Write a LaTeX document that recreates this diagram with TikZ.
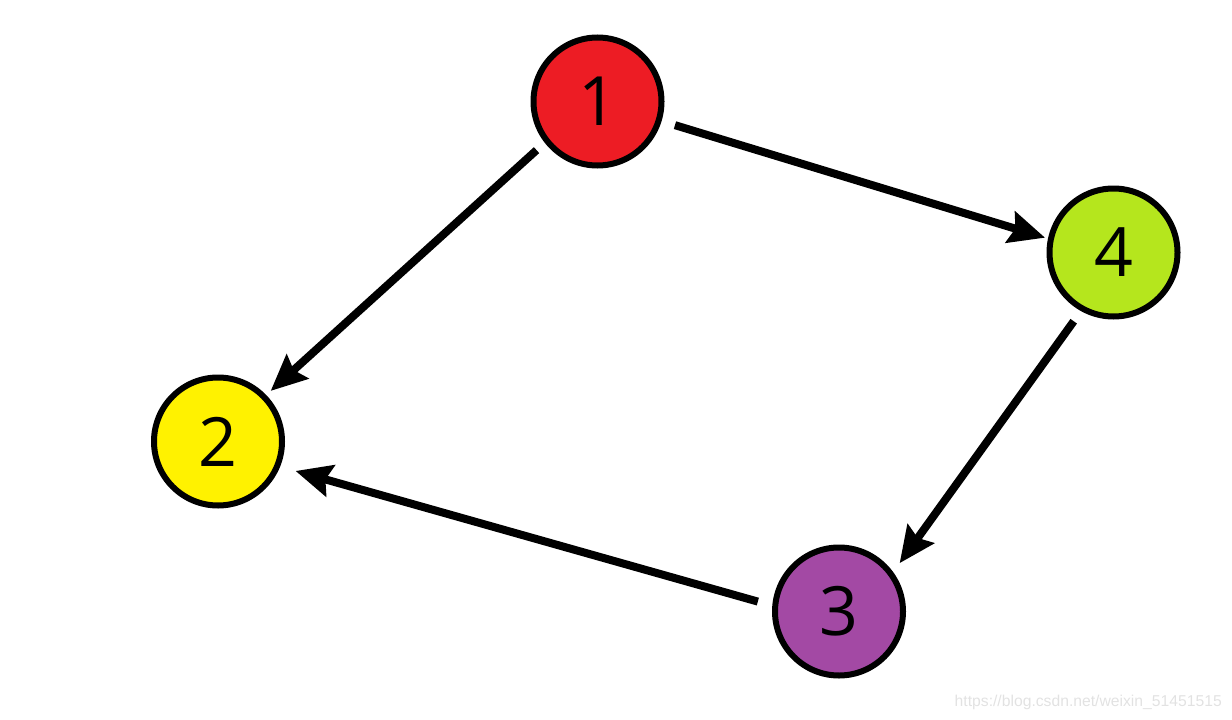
\documentclass[tikz,border=0pt]{standalone}
\usepackage{fontspec}
\setmainfont{Open Sans}
\newfontfamily\wmfont{Liberation Sans}
\usetikzlibrary{arrows.meta}
\definecolor{cred}{HTML}{ED1C24}
\definecolor{cyellow}{HTML}{FFF200}
\definecolor{cpurple}{HTML}{A349A4}
\definecolor{cgreen}{HTML}{B5E61D}
\definecolor{wm}{HTML}{E2E2E2}
\tikzset{
  vtx/.style={circle, draw=black, line width=6pt, minimum size=128pt, inner sep=0pt,
    font=\fontsize{68}{68}\selectfont},
  conn/.style={line width=8pt, -{Stealth[length=36pt,width=32pt,inset=5pt]}}
}
\begin{document}
\begin{tikzpicture}[x=1pt,y=-1pt]
\useasboundingbox (0,0) rectangle (1232,720);
\node[vtx, fill=cred] (n1) at (597.5,101.5) {1};
\node[vtx, fill=cgreen] (n4) at (1113.5,252.5) {4};
\node[vtx, fill=cyellow] (n2) at (218,441.5) {2};
\node[vtx, fill=cpurple] (n3) at (839,611.5) {3};
\draw[conn, shorten <=11pt, shorten >=6pt] (n1.218.3) -- (n2.44.7);
\draw[conn, shorten <=14pt, shorten >=3pt] (n1.343.1) -- (n4.168);
\draw[conn, shorten <=12.5pt, shorten >=11pt] (n4.241) -- (n3.36.4);
\draw[conn, shorten <=15pt, shorten >=16pt] (n3.175.5) -- (n2.338.4);
\node[wm, font=\wmfont\fontsize{15.7}{15.7}\selectfont, anchor=east, inner sep=0pt] (wmk) at (1222,702) {https://blog.csdn.net/weixin\_51451515};
\end{tikzpicture}
\end{document}
